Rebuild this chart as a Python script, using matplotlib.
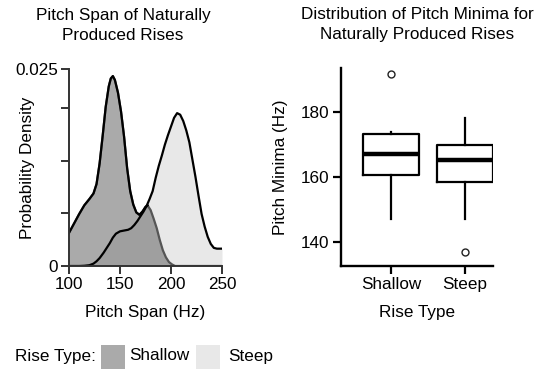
import matplotlib
matplotlib.use("Agg")
import matplotlib.pyplot as plt
from matplotlib.patches import Rectangle
import numpy as np

plt.rcParams['font.family'] = ['Liberation Sans', 'DejaVu Sans']
FS = 12.3

# density curves (Hz, probability density)
shallow_x = [100, 105, 110, 115, 120, 124, 127, 130, 133, 136, 139, 141, 143, 145, 148,
             151, 154, 157, 160, 163, 166, 169, 172, 175, 177, 180, 183, 186, 189, 192,
             195, 198, 201, 204, 250]
shallow_y = [0.0042, 0.0054, 0.0066, 0.0077, 0.0085, 0.0092, 0.0104, 0.0130, 0.0165, 0.0202,
             0.0228, 0.0238, 0.0241, 0.0236, 0.0220, 0.0196, 0.0164, 0.0124, 0.0095, 0.0078,
             0.0068, 0.0065, 0.0069, 0.0075, 0.0077, 0.0071, 0.0060, 0.0048, 0.0033, 0.0020,
             0.0011, 0.0005, 0.0002, 0.0, 0.0]

steep_x = [100, 110, 115, 120, 124, 127, 130, 134, 137, 140, 143, 146, 150, 154, 158,
           161, 164, 167, 170, 173, 176, 179, 182, 185, 188, 191, 194, 197, 200, 203,
           206, 209, 212, 215, 218, 221, 224, 227, 230, 233, 236, 239, 242, 245, 250]
steep_y = [0.0, 0.0, 0.00003, 0.0001, 0.0003, 0.0006, 0.0010, 0.0017, 0.0023, 0.0029,
           0.0036, 0.0041, 0.0044, 0.0045, 0.0046, 0.0048, 0.0052, 0.0057, 0.0063, 0.0069,
           0.0076, 0.0085, 0.0095, 0.0112, 0.0127, 0.0140, 0.0154, 0.0166, 0.0177, 0.0188,
           0.0194, 0.0192, 0.0184, 0.0172, 0.0157, 0.0135, 0.0113, 0.0089, 0.0066, 0.0050,
           0.0037, 0.0028, 0.0023, 0.0022, 0.0022]

# box plot summaries (Hz)
rise_types = ['Shallow', 'Steep']
box_low = [160.8, 158.6]
box_high = [173.2, 169.8]
box_med = [167.1, 165.2]
whisk_low = [147.2, 147.2]
whisk_high = [173.8, 178.2]
outliers = [[191.9], [137.0]]

fig = plt.figure(figsize=(5.42, 3.69), dpi=100)
W, H = 542.0, 369.0

# ---- left: density plot
ax1 = fig.add_axes([69 / W, 1 - 266 / H, 153 / W, 197 / H])
sx = np.array(shallow_x, dtype=float)
sy = np.array(shallow_y)
ax1.fill_between(sx, 0, sy, color='#aaaaaa', lw=0)
ax1.plot(sx, sy, color='#555555', lw=1.6)
top = np.where(sy >= np.interp(sx, steep_x, steep_y) - 0.0003, sy, np.nan)
ax1.fill_between(steep_x, 0, steep_y, color='#666666', alpha=0.15, lw=0)
ax1.plot(sx, top, color='black', lw=1.6)
ax1.plot(steep_x, steep_y, color='black', lw=1.6)
ax1.set_xlim(100, 250)
ax1.set_ylim(0, 0.025)
ax1.set_xticks([100, 150, 200, 250])
ax1.set_yticks([0, 0.02 / 3, 0.04 / 3, 0.02, 0.025])
ax1.set_yticklabels(['0', '', '', '', '0.025'])
for s in ['top', 'right']:
    ax1.spines[s].set_visible(False)
for s in ['left', 'bottom']:
    ax1.spines[s].set_color('#333333')
    ax1.spines[s].set_linewidth(1.4)
ax1.tick_params(length=6, width=1.4, color='#333333', labelsize=FS, pad=2)

# ---- right: box plot
ax2 = fig.add_axes([340.7 / W, 1 - 266 / H, 152.3 / W, 197.7 / H])
stats = []
for i in range(2):
    stats.append(dict(med=box_med[i], q1=box_low[i], q3=box_high[i],
                      whislo=whisk_low[i], whishi=whisk_high[i], fliers=outliers[i]))
ax2.bxp(stats, positions=[1, 2], widths=0.757, showcaps=False,
        boxprops=dict(color='black', lw=1.6),
        medianprops=dict(color='black', lw=3.2, solid_capstyle='butt'),
        whiskerprops=dict(color='black', lw=1.6),
        flierprops=dict(marker='o', markerfacecolor='white', markeredgecolor='#222222',
                        markersize=5, markeredgewidth=1.0))
ax2.set_xlim(0.324, 2.378)
ax2.set_ylim(132.7, 193.5)
ax2.set_yticks([140, 160, 180])
ax2.set_xticks([1, 2])
ax2.set_xticklabels(rise_types)
for s in ['top', 'right']:
    ax2.spines[s].set_visible(False)
for s in ['left', 'bottom']:
    ax2.spines[s].set_linewidth(1.7)
ax2.tick_params(length=6, width=1.6, labelsize=FS, pad=2)

# ---- titles and labels
fig.text(123 / W, 1 - 8 / H, 'Pitch Span of Naturally\nProduced Rises', ha='center', va='top',
         fontsize=FS, linespacing=1.4)
fig.text(417.5 / W, 1 - 7 / H, 'Distribution of Pitch Minima for\nNaturally Produced Rises',
         ha='center', va='top', fontsize=FS, linespacing=1.45)
fig.text(145.5 / W, 1 - 313 / H, 'Pitch Span (Hz)', ha='center', va='center', fontsize=FS)
fig.text(416.9 / W, 1 - 313 / H, 'Rise Type', ha='center', va='center', fontsize=FS)
fig.text(28 / W, 1 - 167.5 / H, 'Probability Density', ha='center', va='center',
         rotation=90, fontsize=FS)
fig.text(280 / W, 1 - 167 / H, 'Pitch Minima (Hz)', ha='center', va='center',
         rotation=90, fontsize=FS)

# ---- legend
fig.text(15 / W, 1 - 356 / H, 'Rise Type:', ha='left', va='center', fontsize=FS)
fig.patches.append(Rectangle((101 / W, 1 - 369 / H), 24 / W, 24 / H, transform=fig.transFigure,
                             color='#aaaaaa', lw=0))
fig.text(129 / W, 1 - 356 / H, 'Shallow', ha='left', va='center', fontsize=FS)
fig.patches.append(Rectangle((196 / W, 1 - 369 / H), 24 / W, 24 / H, transform=fig.transFigure,
                             color='#e8e8e8', lw=0))
fig.text(228 / W, 1 - 356 / H, 'Steep', ha='left', va='center', fontsize=FS)

fig.savefig('out.png', dpi=100)
